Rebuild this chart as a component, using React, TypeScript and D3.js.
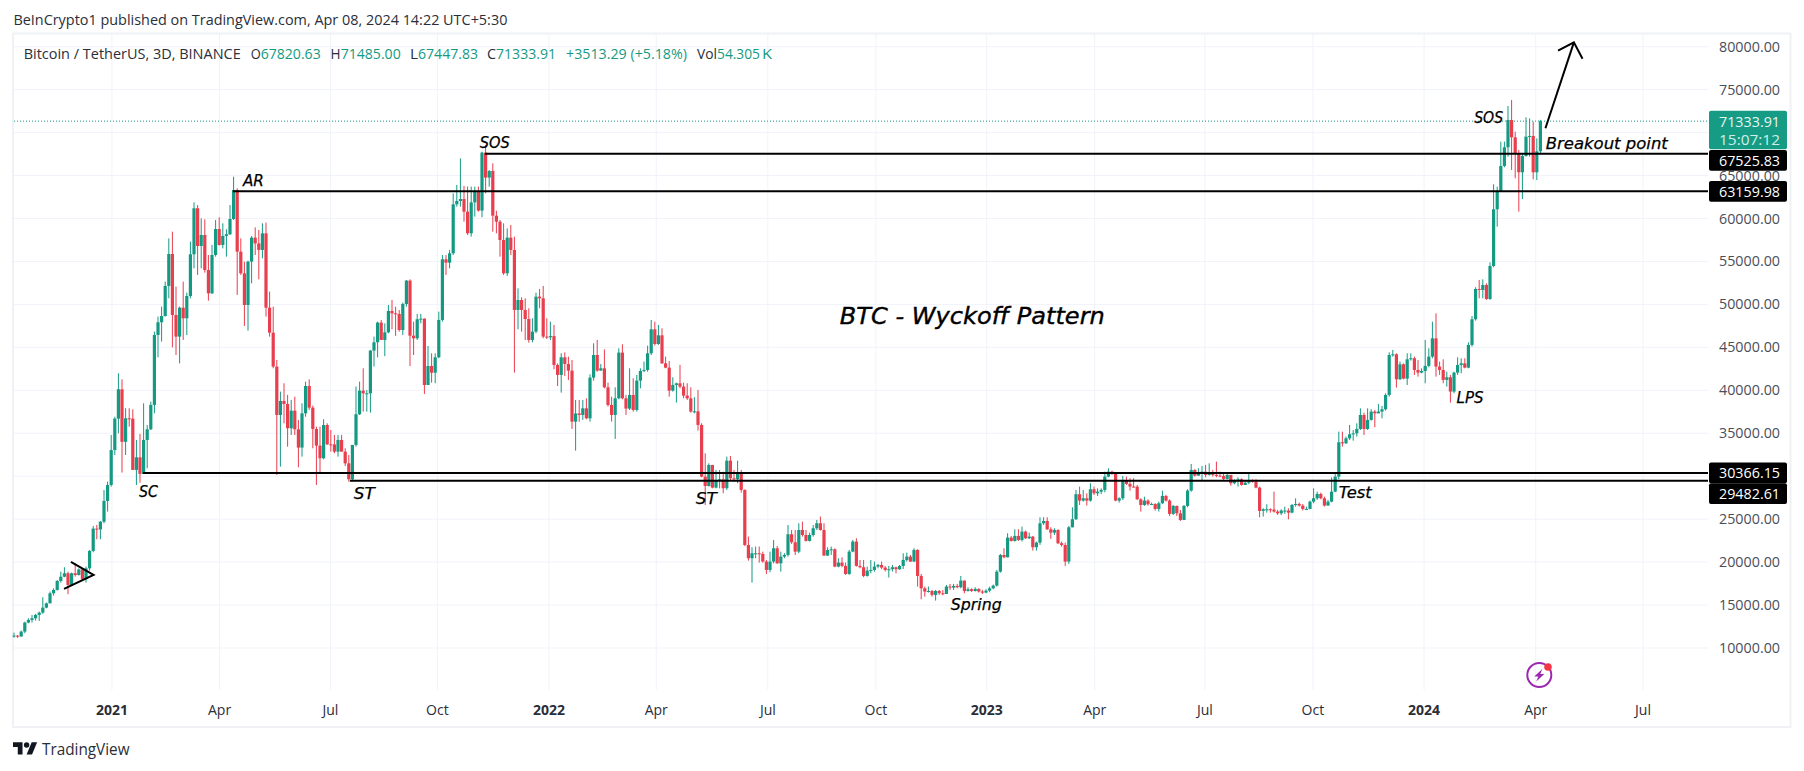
import React, { useEffect, useRef } from "react";
import * as d3 from "d3";

const closes = [
11440,11330,11910,12960,13270,13460,13850,14120,14700,15200,
16370,16760,17800,18300,18700,17340,18700,18500,19150,18000,
19280,21300,23900,23800,24700,27120,28980,33050,36700,40120,
34000,36740,36700,30730,32200,30260,34220,35460,38300,46440,
47920,48650,52150,55870,48770,46250,49620,48380,50980,55830,
61190,56800,58080,54000,51290,55750,58780,56920,57970,58160,
59940,63320,56140,53620,49930,54980,57770,57100,56340,58270,
49620,46710,42760,37130,38760,38410,35580,37630,35460,33330,
37320,40500,37980,35500,33560,32090,35960,33710,33700,32860,
34220,32860,31500,29640,33640,37210,39960,39650,39650,44620,
45590,47880,45860,46750,49240,48960,48890,47020,50050,52770,
46360,46050,48270,48340,40620,42830,42050,43840,48190,55250,
54860,55950,61650,62040,62270,60800,58280,61880,63200,60920,
67670,64760,65530,60330,59630,57500,53620,57770,56340,49350,
50510,49350,48300,45860,46830,50900,50710,46250,46170,46310,
42950,41790,43840,43070,42290,36350,37300,37130,37900,36740,
41480,44110,42290,42560,40350,38290,37130,39070,44390,39070,
37870,39460,37710,41130,42250,42370,44310,47100,45390,46400,
43140,42640,39960,40620,40810,40430,39380,39070,37520,37550,
35970,29950,28860,31310,28670,29560,29640,28600,31810,29760,
29640,30340,28400,21990,20450,21030,21030,20950,20060,19090,
20060,21610,19860,20640,20830,23240,22310,21220,23740,23160,
22470,23160,23940,24520,23740,20760,21410,21490,19480,19940,
19560,18620,21220,22390,19560,19400,18390,19010,19090,19480,
19670,19360,19090,19170,19400,19170,19550,20250,20640,20060,
21420,18390,16950,16570,16640,16180,16640,16370,16290,17150,
17030,17230,17070,17850,16640,16840,16640,16880,16570,16450,
16680,16950,17260,18890,20830,20560,22850,22460,23050,22580,
23550,22770,22970,21730,22270,24520,24790,23820,23430,23740,
22190,21990,20060,24050,24990,27900,27160,27430,27160,28480,
28010,28200,28400,29950,30530,30340,27160,27430,29490,29100,
28790,28780,27310,26650,27160,26730,26770,26190,26850,27700,
27160,25610,26540,25680,24910,26540,28320,30730,30070,30460,
30530,30150,30340,30150,30070,30030,29680,30150,29180,29560,
29640,28980,29250,29490,29370,28670,25960,26150,26150,26110,
25880,25680,26000,26000,25760,26650,26770,26580,26190,26190,
27040,27430,27930,27430,26580,27040,28200,29950,33950,33830,
34410,34880,34990,35500,37130,35500,36550,37520,37320,37520,
37790,39460,44110,44190,41280,43030,41360,43610,43730,42370,
42060,42250,42840,43920,46050,42760,42370,41210,41520,39850,
42060,42950,43140,42640,45280,48270,51800,51680,52260,50630,
54470,61070,63130,66110,68290,71470,69450,67590,65380,67280,
69530,69610,65380,67820.63,71333.91,
];

const highs = [
11790,11520,12030,13070,13460,13850,13970,14240,15910,15290,
16570,16950,17920,18890,19400,18890,18780,19860,19280,19280,
19480,21420,24210,24330,24790,28400,29370,34800,36930,41980,
41280,37910,37910,37790,34220,34920,38490,35970,38680,46830,
48580,49740,52650,57690,58470,52070,49740,52650,51370,57310,
61880,61570,60020,59900,55750,56920,59830,60140,59440,58740,
61570,64870,63510,57690,54980,55090,57970,58970,58660,59440,
59520,51490,49740,43530,39850,40820,39460,38880,39260,36550,
38490,41010,41280,38220,35770,35770,36630,36160,35380,34800,
34800,34800,33250,32470,33640,40430,41010,42560,40040,44700,
46250,47990,48190,47800,49930,50520,49740,49350,50210,52840,
52920,47990,48890,48890,48380,45160,44310,44310,49160,55750,
55750,56340,62930,63900,67000,63790,63710,63710,63710,63710,
67780,68560,65650,66420,60910,59830,59440,58860,59250,57890,
51870,50830,50710,49550,48380,51370,51800,52150,48380,47990,
47610,43140,44310,44420,43920,43530,38880,38880,38880,39070,
41860,45470,45860,43070,44770,40890,39260,40350,44890,45360,
39460,42560,41400,41790,42560,43340,45200,48190,47990,47610,
47220,43920,43420,41520,40890,42950,40890,40820,40350,39190,
40040,36160,32670,31500,31310,30730,30730,30530,32280,32360,
30730,31810,30730,28480,22970,21730,21810,21810,21220,20250,
21220,22580,21880,21220,21030,24320,23740,23740,24520,24710,
23740,23430,24320,24910,25300,24520,21730,21810,21610,20450,
20560,19940,21420,22580,22770,20250,20250,19480,20250,20060,
19790,20060,19550,19550,19670,19480,19670,21030,21100,20830,
21610,21490,18620,17150,17150,16760,16760,16760,16760,17340,
17460,17460,17460,18390,17850,17070,16950,17070,16950,16760,
16840,17150,17380,19090,20950,21610,23360,23050,23820,23820,
24130,23670,23430,23050,22390,25220,25220,25220,24050,23940,
23820,22390,22270,24210,26380,28400,28790,28400,28010,29180,
28790,28590,28590,30530,30920,30650,30420,27550,30030,29950,
29760,29760,28980,27430,27620,27310,26930,26850,27040,28320,
27820,27310,26650,26580,26070,26650,28480,31430,30810,30920,
31190,31310,31500,30730,31700,30530,30260,30340,30150,29640,
29870,29760,29490,30340,29640,29640,28790,26270,26730,26270,
28200,26070,26150,26460,26270,26770,27430,26930,26770,26460,
27160,28590,28200,28090,27620,27240,29870,30340,35190,35190,
34610,35970,35380,36160,37900,37400,37900,37790,37710,38410,
38180,39650,44420,44700,44310,43340,43140,44310,44310,43920,
43530,42560,45860,44890,47990,48960,43340,43610,42170,41790,
42170,43840,43730,43730,45590,48650,52000,52840,52920,52460,
54900,63980,63710,68950,68950,73100,73800,70110,67980,67590,
71780,71660,71270,69330,71485,
];

const lows = [
11210,11170,11330,11720,12880,12960,13190,13150,13970,14630,
15210,16100,16680,17610,18230,16260,17460,18310,18430,17920,
17610,19010,21140,22660,22660,24520,25880,28790,32470,34990,
30420,32470,35770,30730,28980,29250,30260,30920,35380,37320,
43840,45670,48580,50710,45000,44110,43140,45860,46440,50710,
54200,53430,54200,53700,50440,51210,55560,56840,56530,55560,
58080,59830,51100,53430,47490,46950,52460,55750,52920,55370,
48580,46250,42560,30150,31120,36160,33440,34800,34800,31040,
32280,36930,37710,33250,28980,30340,31970,33640,32860,32670,
32280,32860,31190,29370,29560,33440,37130,37520,37520,37400,
42760,43840,45860,43980,46640,47100,46330,46830,46440,49740,
42830,44110,45860,47800,39580,40620,40890,40820,43730,47990,
53430,54200,55750,61380,61380,59630,58080,57890,60220,60800,
60140,62930,63710,58470,58280,55560,53430,53310,55750,42060,
47100,46830,45860,45550,45590,46640,49550,46050,45980,45860,
42450,40500,39730,41670,41200,35500,32980,36350,36550,36630,
36350,41130,42170,42290,40230,38100,36350,34340,38950,38950,
37130,37710,37520,37520,40230,42100,42170,44110,45200,45280,
43070,42560,39260,39850,38570,40230,39070,38880,37400,37320,
35310,29870,26650,28790,28590,28590,28590,28010,28400,29560,
29370,29180,28090,21880,20170,17610,20450,19940,19940,18620,
18820,19860,19790,18890,20450,20640,22120,20830,21030,22970,
22390,22390,22970,23740,23670,20720,20720,20830,19400,19400,
19400,18510,18510,21140,19480,19280,18240,18310,18700,18890,
19280,19170,18900,18200,18900,18700,19090,19200,20060,20020,
20020,17150,15670,15980,16450,15980,15520,16180,16140,16290,
16760,16760,16950,16950,16370,16570,16530,16570,16450,16290,
16370,16490,16840,17150,18780,20450,20560,22390,22390,22460,
22390,22700,22700,21340,21340,22000,24330,23740,22700,23160,
22120,21800,19550,19790,24050,24910,26650,27040,26580,27040,
27820,27700,27930,28130,29870,30150,27080,26930,27240,28980,
28320,28700,27240,25880,26540,26580,26650,26000,25880,26770,
27040,25370,25490,25370,24790,24910,26380,28200,29950,30030,
29560,29870,30070,29950,29870,29870,29560,29640,28900,29060,
28790,28900,28980,29060,29250,28590,25220,25300,25760,25760,
25760,25490,25490,25610,24980,25680,26460,26460,26000,26110,
26150,26850,27240,27310,26460,26580,26960,28130,29640,33440,
33750,34220,34140,34610,35380,34800,35380,36470,35690,37320,
36740,37640,39260,43920,40310,41200,41280,40620,43450,41790,
41590,41980,40820,42680,43730,41590,41790,40820,40430,38570,
39650,41790,41980,42560,42560,45080,48110,50710,50710,50520,
50520,54320,59050,63130,65960,67200,65650,64680,60800,62270,
67200,67200,64560,64480,67447.83,
];

const firstOpen = 11420;
const priceTicks = [80000,75000,70000,65000,60000,55000,50000,45000,40000,35000,30000,25000,20000,15000,10000];
const timeLabels = ["2021","Apr","Jul","Oct","2022","Apr","Jul","Oct","2023","Apr","Jul","Oct","2024","Apr","Jul"];
const timeBars = [27.2,57.1,87.9,117.6,148.6,178.4,209.4,239.4,270.2,300.2,330.8,360.8,391.7,422.7,452.5];
const levelPrices = [67525.83,63159.98,30366.15,29482.61];
const levelStarts = [130.8,60.8,35.8,93.3];
const lastPrice = 71333.91;
const annotationTexts = ["AR","SOS","SC","ST","ST","Spring","Test","LPS","SOS","Breakout point"];
const annotationBars = [63.6,129.4,34.7,94.4,189.4,260.2,368,400.7,405.6,425.5];
const annotationPrices = [63786,68244,27620,27352,26770,14430,27504,38560,71120,68090];
const annotationWidths = [21,30,19,21,21,51,33,27,29,122];
const arrowBars = [425.4,433.3,428.9,433.3,435.7];
const arrowPrices = [70500,80510,79530,80510,78600];
const triangleBars = [15.8,22.1,13.9];
const trianglePrices = [20020,18500,16880];

const UP = "#149a83";
const DOWN = "#e83e4e";
const TAG_UP = "#169c84";
const GRID = "#f0f3fa";
const SANS = "'Open Sans', 'Noto Sans', sans-serif";
const NOTE = "'DejaVu Sans', 'Open Sans', sans-serif";

export default function App() {
  const ref = useRef<SVGSVGElement | null>(null);
  useEffect(() => {
    const svg = d3.select(ref.current);
    svg.selectAll("*").remove();
    const x = d3.scaleLinear().domain([0, 424]).range([14, 1540.4]);
    const y = d3.scaleLinear().domain([10000, 80000]).range([648, 46.7]);
    const plotL = 14, plotR = 1708, plotT = 34, plotB = 690;

    svg.append("rect").attr("width", 1804).attr("height", 771).attr("fill", "#fff");

    const gridG = svg.append("g").attr("stroke", GRID).attr("stroke-width", 1);
    gridG.selectAll("line.h").data(priceTicks).join("line").attr("class", "h")
      .attr("x1", plotL).attr("x2", plotR)
      .attr("y1", d => y(d)).attr("y2", d => y(d));
    gridG.selectAll("line.v").data(timeBars).join("line").attr("class", "v")
      .attr("x1", d => x(d)).attr("x2", d => x(d))
      .attr("y1", plotT).attr("y2", plotB);

    svg.append("rect").attr("x", 13).attr("y", 33.5).attr("width", 1777.5).attr("height", 693.5)
      .attr("fill", "none").attr("stroke", "#eff1f5").attr("stroke-width", 2);

    svg.append("line").attr("x1", plotL).attr("x2", plotR)
      .attr("y1", y(lastPrice)).attr("y2", y(lastPrice))
      .attr("stroke", UP).attr("stroke-width", 1).attr("stroke-dasharray", "1 2");

    const opens = closes.map((_, i) => (i === 0 ? firstOpen : closes[i - 1]));
    const candles = closes.map((c, i) => ({ i, o: opens[i], c, h: highs[i], l: lows[i] }));
    const cg = svg.append("g").selectAll("g").data(candles).join("g")
      .attr("fill", d => (d.c >= d.o ? UP : DOWN))
      .attr("stroke", "none");
    cg.append("rect").attr("x", d => x(d.i) - 0.5).attr("width", 1)
      .attr("y", d => y(d.h)).attr("height", d => Math.max(1, y(d.l) - y(d.h)));
    cg.append("rect").attr("x", d => x(d.i) - 1.6).attr("width", 3.2)
      .attr("y", d => Math.min(y(d.o), y(d.c)))
      .attr("height", d => Math.max(1, Math.abs(y(d.o) - y(d.c))));

    svg.append("g").selectAll("line").data(levelPrices).join("line")
      .attr("x1", (_, i) => x(levelStarts[i])).attr("x2", plotR)
      .attr("y1", d => y(d)).attr("y2", d => y(d))
      .attr("stroke", "#000").attr("stroke-width", 2);

    const polyline = (bars: number[], prices: number[]) =>
      d3.line<number>().x(d => x(bars[d])).y(d => y(prices[d]))(bars.map((_, i) => i));
    svg.append("path").attr("d", polyline(arrowBars.slice(0, 2), arrowPrices.slice(0, 2)))
      .attr("fill", "none").attr("stroke", "#000").attr("stroke-width", 2);
    svg.append("path").attr("d", polyline(arrowBars.slice(2), arrowPrices.slice(2)))
      .attr("fill", "none").attr("stroke", "#000").attr("stroke-width", 2);
    svg.append("path").attr("d", polyline(triangleBars, trianglePrices))
      .attr("fill", "none").attr("stroke", "#000").attr("stroke-width", 2);

    svg.append("g").selectAll("text").data(annotationTexts).join("text")
      .attr("x", (_, i) => x(annotationBars[i])).attr("y", (_, i) => y(annotationPrices[i]))
      .attr("textLength", (_, i) => annotationWidths[i]).attr("lengthAdjust", "spacingAndGlyphs")
      .attr("font-family", NOTE).attr("font-style", "italic")
      .attr("font-size", 16.5).attr("fill", "#000").attr("stroke", "#000").attr("stroke-width", 0.25)
      .text(d => d);

    svg.append("text").attr("x", x(229.4)).attr("y", y(47720))
      .attr("textLength", 265).attr("lengthAdjust", "spacingAndGlyphs")
      .attr("font-family", NOTE).attr("font-style", "italic")
      .attr("font-size", 23.5).attr("fill", "#000").attr("stroke", "#000").attr("stroke-width", 0.4)
      .text("BTC - Wyckoff Pattern");

    // price axis labels
    svg.append("g").selectAll("text").data(priceTicks).join("text")
      .attr("x", 1719).attr("y", d => y(d) + 5)
      .attr("textLength", 61).attr("lengthAdjust", "spacingAndGlyphs")
      .attr("font-family", SANS).attr("font-size", 14).attr("fill", "#4a4e58")
      .text(d => d3.format(".2f")(d));

    // time axis labels
    svg.append("g").selectAll("text").data(timeLabels).join("text")
      .attr("x", (_, i) => x(timeBars[i])).attr("y", 715)
      .attr("text-anchor", "middle")
      .attr("font-family", SANS).attr("font-size", 14)
      .attr("font-weight", d => (/^\d/.test(d) ? 700 : 400))
      .attr("fill", "#2a2e39").text(d => d);

    // price tags
    const tag = (t: number, h: number, fill: string) =>
      svg.append("rect").attr("x", 1709).attr("y", t).attr("width", 78).attr("height", h)
        .attr("rx", 2).attr("fill", fill);
    const tagText = (s: string, base: number, fill: string) =>
      svg.append("text").attr("x", 1719).attr("y", base)
        .attr("textLength", 61).attr("lengthAdjust", "spacingAndGlyphs")
        .attr("font-family", SANS).attr("font-size", 14).attr("fill", fill).text(s);
    tag(110.7, 38.6, TAG_UP);
    tagText("71333.91", 126.5, "#e6f5f2");
    tagText("15:07:12", 144.5, "#cfeee8");
    tag(150, 20.7, "#000");
    tagText("67525.83", 165.5, "#fff");
    tag(181, 20.7, "#000");
    tagText("63159.98", 196.5, "#fff");
    tag(462.6, 20.7, "#000");
    tagText("30366.15", 478, "#fff");
    tag(483.3, 20.7, "#000");
    tagText("29482.61", 499, "#fff");

    // header
    svg.append("text").attr("x", 13.4).attr("y", 25)
      .attr("textLength", 494).attr("lengthAdjust", "spacingAndGlyphs")
      .attr("font-family", SANS).attr("font-size", 14).attr("fill", "#2a2e39")
      .text("BeInCrypto1 published on TradingView.com, Apr 08, 2024 14:22 UTC+5:30");

    // legend
    const legend = (s: string, xs: number, w: number, fill: string) =>
      svg.append("text").attr("x", xs).attr("y", 59)
        .attr("textLength", w).attr("lengthAdjust", "spacingAndGlyphs")
        .attr("font-family", SANS).attr("font-size", 14).attr("fill", fill).text(s);
    legend("Bitcoin / TetherUS, 3D, BINANCE", 23.7, 217, "#2a2e39");
    legend("O", 250.7, 10, "#2a2e39");
    legend("67820.63", 260.7, 60, UP);
    legend("H", 330.6, 10, "#2a2e39");
    legend("71485.00", 340.7, 60, UP);
    legend("L", 410, 8, "#2a2e39");
    legend("67447.83", 418, 60, UP);
    legend("C", 487, 9, "#2a2e39");
    legend("71333.91", 496, 60, UP);
    legend("+3513.29 (+5.18%)", 566, 121, UP);
    legend("Vol", 697, 20, "#2a2e39");
    legend("54.305", 717, 43, UP);
    legend("K", 762, 10, UP);

    // lightning badge
    const badge = svg.append("g").attr("transform", "translate(1539.3,675)");
    badge.append("circle").attr("r", 12).attr("fill", "none").attr("stroke", "#9c27b0").attr("stroke-width", 2);
    badge.append("path").attr("d", "M3,-6 L-5,1.5 L-1,1.5 L-3,6.5 L5,-1 L1,-1 Z").attr("fill", "#9c27b0");
    badge.append("circle").attr("cx", 8.7).attr("cy", -8).attr("r", 3.8).attr("fill", "#f23645");

    // logo + footer
    const logo = svg.append("g").attr("transform", "translate(13,739.5) scale(0.68)").attr("fill", "#131722");
    logo.append("path").attr("d", "M14 22H7V11H0V4h14v18zM28 22h-8l7.5-18h8L28 22z");
    logo.append("circle").attr("cx", 20).attr("cy", 8).attr("r", 4);
    svg.append("text").attr("x", 42).attr("y", 755)
      .attr("textLength", 87.5).attr("lengthAdjust", "spacingAndGlyphs")
      .attr("font-family", SANS).attr("font-size", 16).attr("fill", "#2a2e39").text("TradingView");
  }, []);
  return (
    <svg
      ref={ref}
      width={1804}
      height={771}
      viewBox="0 0 1804 771"
      style={{ position: "absolute", left: 0, top: 0, display: "block" }}
    />
  );
}
